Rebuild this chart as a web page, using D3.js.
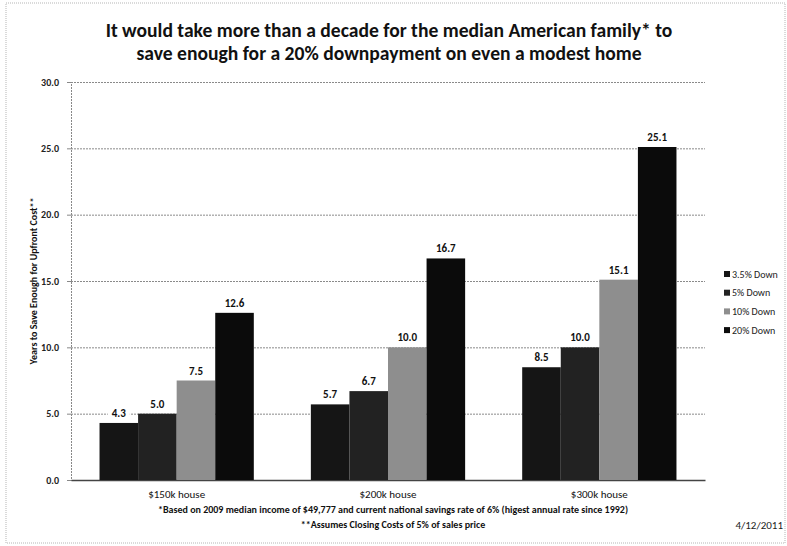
<!DOCTYPE html>
<html>
<head>
<meta charset="utf-8">
<script src="https://cdn.jsdelivr.net/npm/d3@7"></script>
<style>
  body { margin: 0; background: #fff; }
  svg { font-family: Carlito, Calibri, Lato, 'Liberation Sans', Arial, sans-serif; }
</style>
</head>
<body>
<div id="chart"></div>
<script>
// chart values
const categories = ['$150k house', '$200k house', '$300k house']
const seriesNames = ['3.5% Down', '5% Down', '10% Down', '20% Down']
const down35 = [4.3, 5.7, 8.5]
const down5 = [5.0, 6.7, 10.0]
const down10 = [7.5, 10.0, 15.1]
const down20 = [12.6, 16.7, 25.1]
const yTicks = [0, 5, 10, 15, 20, 25, 30]

const seriesValues = [down35, down5, down10, down20]
const colors = ['#151515', '#222222', '#8e8e8e', '#0b0b0b']

const W = 787,
  H = 546
const margin = { top: 82, right: 82, bottom: 66, left: 71 }

const svg = d3
  .select('#chart')
  .append('svg')
  .attr('width', W)
  .attr('height', H)

// outer frame
svg
  .append('rect')
  .attr('x', 6)
  .attr('y', 3)
  .attr('width', W - 8)
  .attr('height', H - 6)
  .attr('fill', 'none')
  .attr('stroke', '#b5b5b5')
  .attr('stroke-dasharray', '1,1')

const x0 = d3
  .scaleBand()
  .domain(categories)
  .range([margin.left, W - margin.right])
  .paddingInner(0.27)
  .paddingOuter(0.135)

const x1 = d3
  .scaleBand()
  .domain(seriesNames)
  .range([0, x0.bandwidth()])

const y = d3
  .scaleLinear()
  .domain([0, 30])
  .range([H - margin.bottom, margin.top])

// gridlines
svg
  .append('g')
  .attr('class', 'grid')
  .attr('transform', 'translate(' + margin.left + ',0)')
  .call(
    d3
      .axisLeft(y)
      .tickValues(yTicks)
      .tickSize(-(W - margin.right - margin.left))
      .tickFormat('')
  )
  .call(g => g.select('.domain').remove())
  .call(g =>
    g
      .selectAll('line')
      .attr('stroke', '#8a8a8a')
      .attr('stroke-dasharray', '2,1')
  )

// y axis
svg
  .append('g')
  .attr('transform', 'translate(' + margin.left + ',0)')
  .call(
    d3
      .axisLeft(y)
      .tickValues(yTicks)
      .tickSize(4)
      .tickFormat(d3.format('.1f'))
  )
  .call(g => g.select('.domain').attr('stroke', '#888').attr('stroke-dasharray', '2,1'))
  .call(g => g.selectAll('line').attr('stroke', '#888'))
  .call(g =>
    g
      .selectAll('text')
      .attr('x', -12)
      .attr('fill', '#222')
      .style('font-size', '10px')
      .style('font-weight', 'bold')
      .style('font-family', 'Carlito, Calibri, Lato, sans-serif')
  )

// x axis
svg
  .append('g')
  .attr('transform', 'translate(0,' + (H - margin.bottom) + ')')
  .call(d3.axisBottom(x0).tickSize(0).tickPadding(10))
  .call(g => g.select('.domain').attr('stroke', '#444').attr('stroke-width', 1.5))
  .call(g =>
    g
      .selectAll('text')
      .attr('fill', '#111')
      .style('font-size', '11px')
      .style('font-family', 'Carlito, Calibri, Lato, sans-serif')
  )

// bars
const groups = svg
  .append('g')
  .selectAll('g')
  .data(categories)
  .join('g')
  .attr('transform', d => 'translate(' + x0(d) + ',0)')

groups
  .selectAll('rect')
  .data((c, i) => seriesNames.map((s, j) => ({ s, j, v: seriesValues[j][i] })))
  .join('rect')
  .attr('x', d => x1(d.s))
  .attr('y', d => y(d.v))
  .attr('width', x1.bandwidth())
  .attr('height', d => y(0) - y(d.v))
  .attr('fill', d => colors[d.j])

// value labels with white boxes
const labels = groups
  .selectAll('g.lbl')
  .data((c, i) => seriesNames.map((s, j) => ({ s, j, v: seriesValues[j][i] })))
  .join('g')
  .attr('class', 'lbl')
  .attr('transform', d => 'translate(' + (x1(d.s) + x1.bandwidth() / 2) + ',' + (y(d.v) - 6) + ')')

labels
  .append('rect')
  .attr('x', -11)
  .attr('y', -11)
  .attr('width', 22)
  .attr('height', 13)
  .attr('fill', '#fff')

labels
  .append('text')
  .attr('text-anchor', 'middle')
  .attr('fill', '#111')
  .style('font-size', '11px')
  .style('font-weight', 'bold')
  .text(d => d3.format('.1f')(d.v))

// y axis title
svg
  .append('text')
  .attr('transform', 'translate(33,281) rotate(-90)')
  .attr('text-anchor', 'middle')
  .attr('dy', '0.35em')
  .attr('fill', '#111')
  .style('font-size', '10px')
  .style('font-weight', 'bold')
  .text('Years to Save Enough for Upfront Cost**')

// title
const title = [
  'It would take more than a decade for the median American family* to',
  'save enough for a 20% downpayment on even a modest home'
]
svg
  .append('g')
  .selectAll('text')
  .data(title)
  .join('text')
  .attr('x', 389)
  .attr('y', (d, i) => 37 + i * 23)
  .attr('text-anchor', 'middle')
  .attr('fill', '#111')
  .style('font-size', '19.6px')
  .style('font-weight', 'bold')
  .text(d => d)

// legend
const legend = svg
  .append('g')
  .selectAll('g')
  .data(seriesNames)
  .join('g')
  .attr('transform', (d, i) => 'translate(724,' + (274 + i * 18.7) + ')')

legend
  .append('rect')
  .attr('x', 0)
  .attr('y', -3)
  .attr('width', 6)
  .attr('height', 6)
  .attr('fill', (d, i) => colors[i])

legend
  .append('text')
  .attr('x', 8)
  .attr('dy', '0.35em')
  .attr('fill', '#222')
  .style('font-size', '10px')
  .text(d => d)

// footnotes
const notes = [
  '*Based on 2009 median income of $49,777 and current national savings rate of 6% (higest annual rate since 1992)',
  '**Assumes Closing Costs of 5% of sales price'
]
svg
  .append('g')
  .selectAll('text')
  .data(notes)
  .join('text')
  .attr('x', 393)
  .attr('y', (d, i) => 513 + i * 15)
  .attr('text-anchor', 'middle')
  .attr('fill', '#111')
  .style('font-size', '10px')
  .style('font-weight', 'bold')
  .text(d => d)

svg
  .append('text')
  .attr('x', 783)
  .attr('y', 529)
  .attr('text-anchor', 'end')
  .attr('fill', '#222')
  .style('font-size', '11px')
  .text('4/12/2011')
</script>
</body>
</html>
